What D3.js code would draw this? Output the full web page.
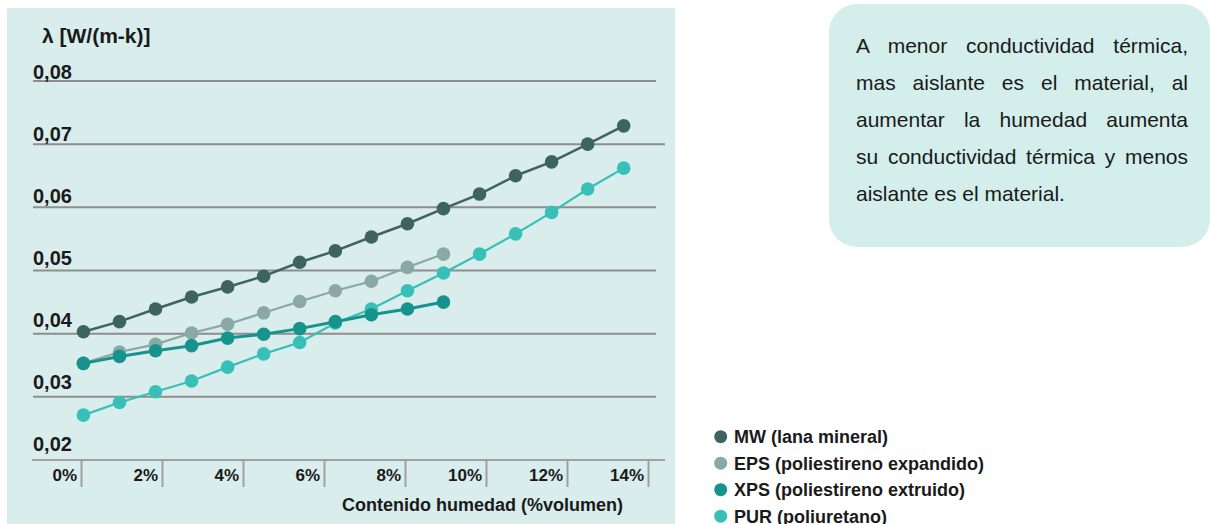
<!DOCTYPE html>
<html>
<head>
<meta charset="utf-8">
<script src="https://d3js.org/d3.v7.min.js"></script>
<style>
  html, body { margin: 0; padding: 0; background: #ffffff; }
  body { width: 1210px; height: 524px; position: relative; overflow: hidden; font-family: "Liberation Sans", Arial, sans-serif; }
  svg { position: absolute; left: 0; top: 0; }
  #note { position: absolute; left: 856px; top: 27px; width: 332px; font-size: 21px; line-height: 37px; color: #1a1a1a; font-family: "Liberation Sans", Arial, sans-serif; }
  #note div { text-align: justify; text-align-last: justify; white-space: nowrap; }
  #note div.last { text-align-last: left; }
</style>
</head>
<body>
<svg id="chart" width="1210" height="524"></svg>
<div id="note"></div>
<script>
// ---- data ----
const moisture = [0.06, 0.95, 1.84, 2.73, 3.62, 4.51, 5.40, 6.28, 7.17, 8.06, 8.95, 9.84, 10.73, 11.62, 12.51, 13.40];
const mwValues  = [0.0403, 0.0419, 0.0439, 0.0458, 0.0474, 0.0491, 0.0513, 0.0531, 0.0553, 0.0574, 0.0598, 0.0621, 0.0650, 0.0672, 0.0700, 0.0729];
const epsValues = [0.0353, 0.0371, 0.0383, 0.0401, 0.0415, 0.0433, 0.0451, 0.0468, 0.0483, 0.0505, 0.0526];
const xpsValues = [0.0353, 0.0364, 0.0373, 0.0381, 0.0393, 0.0399, 0.0408, 0.0419, 0.0430, 0.0439, 0.0450];
const purValues = [0.0271, 0.0291, 0.0308, 0.0325, 0.0347, 0.0368, 0.0386, 0.0417, 0.0439, 0.0468, 0.0496, 0.0526, 0.0558, 0.0592, 0.0629, 0.0662];
const seriesNames = ["MW (lana mineral)", "EPS (poliestireno expandido)", "XPS (poliestireno extruido)", "PUR (poliuretano)"];
const seriesColors = ["#3e6461", "#8aa8a6", "#17938d", "#38c0b8"];
const yTicks = [0.02, 0.03, 0.04, 0.05, 0.06, 0.07, 0.08];
const yTickLabels = ["0,02", "0,03", "0,04", "0,05", "0,06", "0,07", "0,08"];
const xTicks = [0, 2, 4, 6, 8, 10, 12, 14];
const xTickLabels = ["0%", "2%", "4%", "6%", "8%", "10%", "12%", "14%"];
const yTitle = "λ [W/(m-k)]";
const xTitle = "Contenido humedad (%volumen)";
const noteLines = ["A menor conductividad térmica,", "mas aislante es el material, al", "aumentar la humedad aumenta", "su conductividad térmica y menos", "aislante es el material."];

// ---- drawing ----
const svg = d3.select("#chart");
const FONT = "'Liberation Sans', Arial, sans-serif";
const textColor = "#1a1a1a";

// chart panel
svg.append("rect").attr("x", 7).attr("y", 8).attr("width", 668).attr("height", 520).attr("fill", "#d9edec");
// note box
svg.append("rect").attr("x", 829).attr("y", 4).attr("width", 381).attr("height", 243).attr("rx", 28).attr("ry", 28).attr("fill", "#d3eeeb");

const x = d3.scaleLinear().domain([0, 14]).range([81, 648]);
const y = d3.scaleLinear().domain([0.02, 0.08]).range([460, 81]);
const yLabel = d3.scaleLinear().domain([0.02, 0.08]).range([451, 79]);

// gridlines
svg.append("g").selectAll("line").data(yTicks.filter(d => d > 0.02)).join("line")
  .attr("x1", 33).attr("x2", d => Math.abs(d - 0.07) < 1e-9 ? 665 : 656)
  .attr("y1", d => y(d)).attr("y2", d => y(d))
  .attr("stroke", "#8e8e8e").attr("stroke-width", 2);

// x axis line + ticks
const xAxis = d3.axisBottom(x).tickValues(xTicks).tickSize(27).tickFormat("");
const gx = svg.append("g").attr("transform", `translate(0,${y(0.02)})`).call(xAxis);
gx.select(".domain").remove();
gx.selectAll(".tick line").attr("stroke", "#a0a0a0").attr("stroke-width", 2);
svg.append("line").attr("x1", 32).attr("x2", 665).attr("y1", y(0.02)).attr("y2", y(0.02))
  .attr("stroke", "#a0a0a0").attr("stroke-width", 2);

// x tick labels
svg.append("g").selectAll("text").data(xTicks).join("text")
  .attr("x", d => x(d) - 4).attr("y", 481)
  .attr("text-anchor", "end").attr("font-family", FONT).attr("font-weight", "bold")
  .attr("font-size", 17).attr("fill", textColor)
  .text((d, i) => xTickLabels[i]);

// y tick labels
svg.append("g").selectAll("text").data(yTicks).join("text")
  .attr("x", 33).attr("y", d => yLabel(d))
  .attr("font-family", FONT).attr("font-weight", "bold")
  .attr("font-size", 20).attr("fill", textColor)
  .text((d, i) => yTickLabels[i]);

// titles
svg.append("text").attr("x", 42).attr("y", 43).attr("font-family", FONT).attr("font-weight", "bold")
  .attr("font-size", 21).attr("fill", textColor).text(yTitle);
svg.append("text").attr("x", 342).attr("y", 511).attr("font-family", FONT).attr("font-weight", "bold")
  .attr("font-size", 18).attr("fill", textColor).text(xTitle);

// series
const series = [
  { name: seriesNames[0], color: seriesColors[0], values: mwValues, width: 2.5 },
  { name: seriesNames[1], color: seriesColors[1], values: epsValues, width: 2.2 },
  { name: seriesNames[3], color: seriesColors[3], values: purValues, width: 2.2 },
  { name: seriesNames[2], color: seriesColors[2], values: xpsValues, width: 3 }
];
const line = d3.line().x(d => x(d[0])).y(d => y(d[1]));
series.forEach(s => {
  const pts = s.values.map((v, i) => [moisture[i], v]);
  const g = svg.append("g");
  g.append("path").attr("d", line(pts)).attr("fill", "none").attr("stroke", s.color).attr("stroke-width", s.width);
  g.selectAll("circle").data(pts).join("circle")
    .attr("cx", d => x(d[0])).attr("cy", d => y(d[1])).attr("r", 6.8).attr("fill", s.color);
});

// legend
const lg = svg.append("g");
seriesNames.forEach((n, i) => {
  const cy = 436.7 + i * 26.5;
  lg.append("circle").attr("cx", 720.7).attr("cy", cy).attr("r", 6.5).attr("fill", seriesColors[i]);
  lg.append("text").attr("x", 734).attr("y", cy + 6.5).attr("font-family", FONT).attr("font-weight", "bold")
    .attr("font-size", 18).attr("fill", textColor).text(n);
});

// note text
d3.select("#note").selectAll("div").data(noteLines).join("div")
  .attr("class", (d, i) => i === noteLines.length - 1 ? "last" : null)
  .text(d => d);
</script>
</body>
</html>
